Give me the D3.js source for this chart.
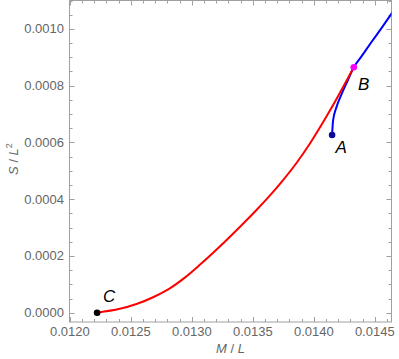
<!DOCTYPE html>
<html>
<head>
<meta charset="utf-8">
<script src="https://cdn.jsdelivr.net/npm/d3@7"></script>
<style>
  body { margin: 0; background: #fff; }
  svg { display: block; font-family: "Liberation Sans", Arial, sans-serif; }
</style>
</head>
<body>
<svg width="399" height="359"></svg>
<script>
// values
const redM = [0.0122238, 0.0124098, 0.0125467, 0.0126828, 0.0128197, 0.0129426, 0.0130656, 0.0132295,
              0.0133934, 0.0135303, 0.0136393, 0.0137484, 0.0138582, 0.0139672, 0.0141311, 0.0143279];
const redS = [0.0000000, 0.0000136, 0.0000306, 0.0000545, 0.0000857, 0.0001236, 0.0001685, 0.0002332,
              0.0003021, 0.0003620, 0.0004124, 0.0004672, 0.0005274, 0.0005953, 0.0007113, 0.0008650];

const blueM = [0.0141500, 0.0141582, 0.0141861, 0.0142270, 0.0142746, 0.0143279, 0.0143910, 0.0144730,
               0.0145549, 0.0146287, 0.0147049];
const blueS = [0.0006259, 0.0006776, 0.0007243, 0.0007690, 0.0008147, 0.0008650, 0.0009033, 0.0009536,
               0.0010028, 0.0010485, 0.0010960];

const pointNames = ["A", "B", "C"];
const pointM = [0.0141500, 0.0143279, 0.0122238];
const pointS = [0.0006259, 0.0008650, 0.0000000];
const pointColors = ["#0a0a96", "#ff00ff", "#000000"];

const xTicks = [0.0120, 0.0125, 0.0130, 0.0135, 0.0140, 0.0145];
const yTicks = [0.0000, 0.0002, 0.0004, 0.0006, 0.0008, 0.0010];

const svg = d3.select("svg");
const pLeft = 69.5, pRight = 391.5, pTop = 0.5, pBottom = 322;

const x = d3.scaleLinear().domain([0.0119975, 0.014637]).range([pLeft, pRight]);
const y = d3.scaleLinear().domain([-0.0000328, 0.0011]).range([pBottom, pTop]);

const frameColor = "#a0a0a0";
const labelColor = "#666666";

// clip for curves
svg.append("defs").append("clipPath").attr("id", "plotclip")
    .append("rect")
        .attr("x", pLeft).attr("y", pTop)
        .attr("width", pRight - pLeft).attr("height", pBottom - pTop);

// minor/major ticks on all four sides (pointing inwards)
const xMinor = d3.range(0.0120, 0.01465, 0.0001).filter(v => v <= x.domain()[1]);
const yMinor = d3.range(0.0, 0.00111, 0.00005);

const tickG = svg.append("g").attr("stroke", frameColor).attr("stroke-width", 1);
xMinor.forEach(v => {
    let major = xTicks.some(t => Math.abs(t - v) < 1e-9);
    let len = major ? 5 : 3;
    let px = Math.round(x(v)) + 0.5;
    tickG.append("line").attr("x1", px).attr("x2", px).attr("y1", pBottom).attr("y2", pBottom - len);
    tickG.append("line").attr("x1", px).attr("x2", px).attr("y1", pTop).attr("y2", pTop + len);
});
yMinor.forEach(v => {
    let major = yTicks.some(t => Math.abs(t - v) < 1e-9);
    let len = major ? 5 : 3;
    let py = Math.round(y(v)) + 0.5;
    tickG.append("line").attr("x1", pLeft).attr("x2", pLeft + len).attr("y1", py).attr("y2", py);
    tickG.append("line").attr("x1", pRight).attr("x2", pRight - len).attr("y1", py).attr("y2", py);
});

// frame
svg.append("rect")
    .attr("x", pLeft).attr("y", pTop)
    .attr("width", pRight - pLeft).attr("height", pBottom - pTop)
    .attr("fill", "none")
    .attr("stroke", frameColor)
    .attr("stroke-width", 1);

// tick labels
svg.append("g").selectAll("text").data(xTicks).join("text")
    .attr("x", d => x(d))
    .attr("y", 336)
    .attr("text-anchor", "middle")
    .attr("font-size", 13)
    .attr("fill", labelColor)
    .text(d => d.toFixed(4));

svg.append("g").selectAll("text").data(yTicks).join("text")
    .attr("x", 64)
    .attr("y", d => y(d) + 4.5)
    .attr("text-anchor", "end")
    .attr("font-size", 13)
    .attr("fill", labelColor)
    .text(d => d.toFixed(4));

// axis labels
const xl = svg.append("text")
    .attr("x", (pLeft + pRight) / 2)
    .attr("y", 353)
    .attr("text-anchor", "middle")
    .attr("font-size", 13)
    .attr("fill", labelColor);
xl.append("tspan").attr("font-style", "italic").text("M");
xl.append("tspan").text(" / ");
xl.append("tspan").attr("font-style", "italic").text("L");

const yl = svg.append("text")
    .attr("transform", "translate(18,159) rotate(-90)")
    .attr("text-anchor", "middle")
    .attr("font-size", 13)
    .attr("fill", labelColor);
yl.append("tspan").attr("font-style", "italic").text("S");
yl.append("tspan").text(" / ");
yl.append("tspan").attr("font-style", "italic").text("L");
yl.append("tspan").attr("font-size", 9).attr("dy", -6).text("2");

// curves
const line = d3.line()
    .x(d => x(d[0]))
    .y(d => y(d[1]))
    .curve(d3.curveMonotoneX);

const plot = svg.append("g").attr("clip-path", "url(#plotclip)");
plot.append("path")
    .datum(blueM.map((m, i) => [m, blueS[i]]))
    .attr("d", line)
    .attr("fill", "none")
    .attr("stroke", "#0000ff")
    .attr("stroke-width", 2);
plot.append("path")
    .datum(redM.map((m, i) => [m, redS[i]]))
    .attr("d", line)
    .attr("fill", "none")
    .attr("stroke", "#ff0000")
    .attr("stroke-width", 2);

// labelled points
svg.append("g").selectAll("circle").data(pointNames).join("circle")
    .attr("cx", (d, i) => x(pointM[i]))
    .attr("cy", (d, i) => y(pointS[i]))
    .attr("r", 3.3)
    .attr("fill", (d, i) => pointColors[i]);

const labelOffsets = {A: [9, 18], B: [10, 22.5], C: [12, -10.5]};
svg.append("g").selectAll("text").data(pointNames).join("text")
    .attr("x", (d, i) => x(pointM[i]) + labelOffsets[d][0])
    .attr("y", (d, i) => y(pointS[i]) + labelOffsets[d][1])
    .attr("text-anchor", "middle")
    .attr("font-size", 17)
    .attr("font-style", "italic")
    .attr("fill", "#000")
    .text(d => d);
</script>
</body>
</html>
